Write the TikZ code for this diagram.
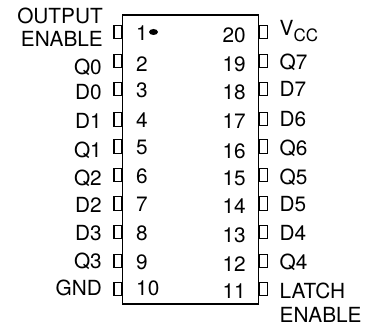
\documentclass[tikz,border=0pt]{standalone}
\usepackage{fontspec}
\setmainfont{TeX Gyre Heros}
\usetikzlibrary{shapes.geometric}
\tikzstyle{Body}=[rectangle, minimum width=136pt, minimum height=289pt, inner sep=0pt, line width=1.3pt, draw=black]
\tikzstyle{PinL}=[rectangle, minimum width=8pt, minimum height=13.5pt, inner sep=0pt, line width=1.3pt, draw=black, anchor=east]
\tikzstyle{PinR}=[rectangle, minimum width=8.5pt, minimum height=13.5pt, inner sep=0pt, line width=1.3pt, draw=black, anchor=west]
\tikzstyle{Name}=[inner sep=0pt, font=\fontsize{20.8}{23.5}\selectfont]
\tikzstyle{NameL}=[Name, anchor=east, align=right]
\tikzstyle{NameR}=[Name, anchor=west, align=left]
\tikzstyle{NumL}=[Name, anchor=west]
\tikzstyle{NumR}=[Name, anchor=east]

\begin{document}
\begin{tikzpicture}[x=1pt, y=1pt]
    \useasboundingbox (0,0) rectangle (366,326);
    \node[Body] (chip) at (190.5,166.5) {};

    \path
    (122.5,294) node[PinL] (pin1) {}
    (122.5,265) node[PinL] (pin2) {}
    (122.5,237) node[PinL] (pin3) {}
    (122.5,206.5) node[PinL] (pin4) {}
    (122.5,179.5) node[PinL] (pin5) {}
    (122.5,151) node[PinL] (pin6) {}
    (122.5,122.5) node[PinL] (pin7) {}
    (122.5,94) node[PinL] (pin8) {}
    (122.5,65) node[PinL] (pin9) {}
    (122.5,37) node[PinL] (pin10) {};

    \path
    (258.5,294) node[PinR] (pin20) {}
    (258.5,265) node[PinR] (pin19) {}
    (258.5,237) node[PinR] (pin18) {}
    (258.5,207) node[PinR] (pin17) {}
    (258.5,179.5) node[PinR] (pin16) {}
    (258.5,151) node[PinR] (pin15) {}
    (258.5,122.5) node[PinR] (pin14) {}
    (258.5,94) node[PinR] (pin13) {}
    (258.5,65) node[PinR] (pin12) {}
    (258.5,37) node[PinR] (pin11) {};

    \path
    (103,299) node[NameL] (oe) {OUTPUT\\ENABLE}
    (102,259) node[NameL] (q0) {Q0}
    (102,234) node[NameL] (d0) {D0}
    (102,205) node[NameL] (d1) {D1}
    (102,176) node[NameL] (q1) {Q1}
    (102,148) node[NameL] (q2) {Q2}
    (102,121) node[NameL] (d2) {D2}
    (102,93) node[NameL] (d3) {D3}
    (102,65) node[NameL] (q3) {Q3}
    (102,38) node[NameL] (gnd) {GND};

    \path
    (279.5,295) node[NameR] (vcc) {V\textsubscript{\fontsize{17}{17}\selectfont CC}}
    (279.5,263.5) node[NameR] (q7) {Q7}
    (279.5,237) node[NameR] (d7) {D7}
    (279.5,206.5) node[NameR] (d6) {D6}
    (279.5,178) node[NameR] (q6) {Q6}
    (279.5,149) node[NameR] (q5) {Q5}
    (279.5,122) node[NameR] (d5) {D5}
    (279.5,93) node[NameR] (d4) {D4}
    (279.5,64) node[NameR] (q4) {Q4}
    (279.5,23.5) node[NameR] (le) {LATCH\\ENABLE};

    \path
    (136,293) node[NumL] (n1) {1}
    (136,262) node[NumL] (n2) {2}
    (136,236) node[NumL] (n3) {3}
    (136,206) node[NumL] (n4) {4}
    (136,178.5) node[NumL] (n5) {5}
    (136,149.5) node[NumL] (n6) {6}
    (136,122) node[NumL] (n7) {7}
    (136,93) node[NumL] (n8) {8}
    (136,64) node[NumL] (n9) {9}
    (136,38) node[NumL] (n10) {10};

    \path
    (246,291) node[NumR] (n20) {20}
    (246,262) node[NumR] (n19) {19}
    (246,234) node[NumR] (n18) {18}
    (246,205) node[NumR] (n17) {17}
    (246,175) node[NumR] (n16) {16}
    (246,148) node[NumR] (n15) {15}
    (246,120) node[NumR] (n14) {14}
    (246,91) node[NumR] (n13) {13}
    (246,62) node[NumR] (n12) {12}
    (246,35) node[NumR] (n11) {11};

    \path (153.5,294) node[ellipse, fill=black, minimum width=9pt, minimum height=6pt, inner sep=0pt] (dot) {};
\end{tikzpicture}
\end{document}
